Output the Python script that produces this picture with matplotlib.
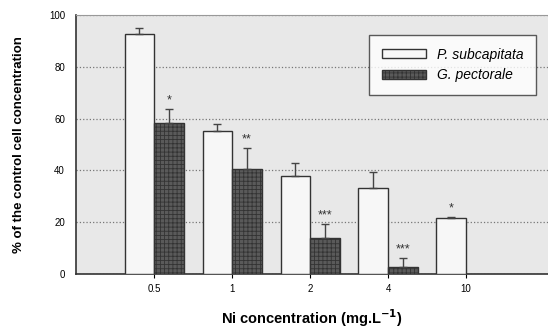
import matplotlib.pyplot as plt
import numpy as np

# data
concentrations = ['0.5', '1', '2', '4', '10']
p_subcapitata = [92.7, 55.2, 37.8, 33.2, 21.6]
p_sub_err = [2.5, 2.8, 5.0, 6.2, 0.5]
p_sub_stars = ['', '', '', '', '*']
g_pectorale = [58.3, 40.5, 13.9, 2.7]
g_pec_err = [5.4, 8.0, 5.4, 3.5]
g_pec_stars = ['*', '**', '***', '***']

plt.rcParams['font.family'] = ['Liberation Sans', 'DejaVu Sans']
plt.rcParams['hatch.color'] = '#2a2a2a'
plt.rcParams['hatch.linewidth'] = 0.6

fig = plt.figure(figsize=(5.48, 3.29), dpi=100)
ax = fig.add_axes([0.139, 0.167, 0.861, 0.787])
ax.set_facecolor('#e8e8e8')

x = np.arange(1, len(concentrations) + 1)
w = 0.38

ekw = dict(ecolor='#444444', elinewidth=1, capsize=3)
ax.bar(x - w / 2, p_subcapitata, width=w, color='#f7f7f7', edgecolor='#333333',
       linewidth=1.0, yerr=[np.zeros(len(p_sub_err)), p_sub_err], error_kw=ekw,
       label='P. subcapitata', zorder=3)
xg = x[:len(g_pectorale)] + w / 2
ax.bar(xg, g_pectorale, width=w, color='#5a5a5a', edgecolor='#333333', hatch='++++',
       linewidth=1.0, yerr=[np.zeros(len(g_pec_err)), g_pec_err], error_kw=ekw,
       label='G. pectorale', zorder=3)

for xi, v, e, s in zip(x - w / 2, p_subcapitata, p_sub_err, p_sub_stars):
    if s:
        ax.text(xi, v + e + 1, s, ha='center', va='bottom', fontsize=9, color='#333333', zorder=4)
for xi, v, e, s in zip(xg, g_pectorale, g_pec_err, g_pec_stars):
    ax.text(xi, v + e + 1, s, ha='center', va='bottom', fontsize=9, color='#333333', zorder=4)

ax.set_xlim(0, 6.05)
ax.set_ylim(0, 100)
ax.set_xticks(x)
ax.set_xticklabels(concentrations, fontsize=7)
ax.set_yticks([0, 20, 40, 60, 80, 100])
ax.tick_params(axis='y', labelsize=7, length=0, pad=8)
ax.tick_params(axis='x', length=3, pad=4)
ax.yaxis.grid(True, linestyle=':', color='#777777', linewidth=0.9, zorder=0)
ax.set_axisbelow(True)
for sp in ['left', 'bottom']:
    ax.spines[sp].set_color('#333333')
    ax.spines[sp].set_linewidth(1.2)
ax.spines['top'].set_color('#999999')
ax.spines['right'].set_visible(False)

ax.set_ylabel('% of the control cell concentration', fontsize=9.5, fontweight='bold', labelpad=17)
ax.set_xlabel('Ni concentration (mg.L$^{\\mathbf{-1}}$)', fontsize=10.5, fontweight='bold', labelpad=10)

leg = ax.legend(loc='upper right', bbox_to_anchor=(0.99, 0.95), frameon=True, fancybox=False,
                prop={'style': 'italic', 'size': 10}, borderpad=0.9,
                handlelength=3.2, handleheight=0.6, labelspacing=0.5)
leg.get_frame().set_edgecolor('#333333')
leg.get_frame().set_facecolor('white')
leg.get_frame().set_linewidth(1.0)

fig.savefig('out.png', dpi=100)
